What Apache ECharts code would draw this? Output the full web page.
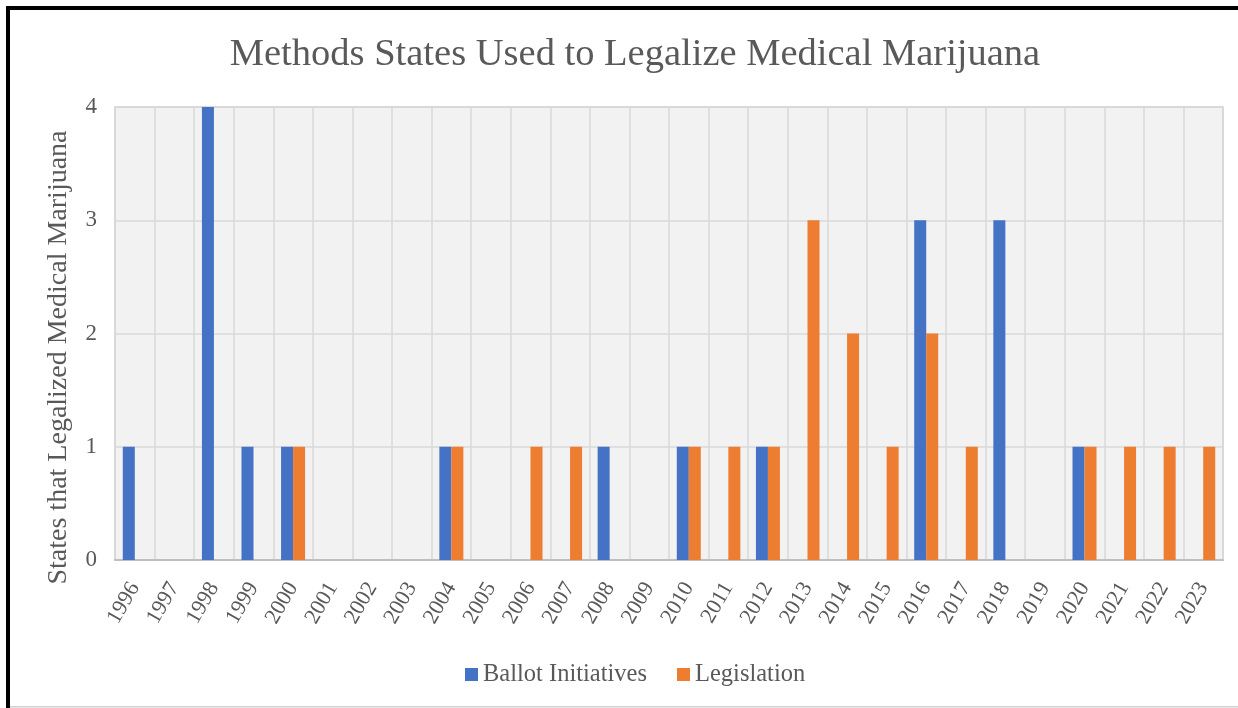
<!DOCTYPE html>
<html>
<head>
<meta charset="utf-8">
<script src="https://cdn.jsdelivr.net/npm/echarts@6/dist/echarts.min.js"></script>
<style>
html,body{margin:0;padding:0;background:#fff;}
#chart{width:1238px;height:708px;}
</style>
</head>
<body>
<div id="chart"></div>
<script>
const years = ['1996','1997','1998','1999','2000','2001','2002','2003','2004','2005','2006','2007','2008','2009','2010','2011','2012','2013','2014','2015','2016','2017','2018','2019','2020','2021','2022','2023'];
const ballotInitiatives = [1,0,4,1,1,0,0,0,1,0,0,0,1,0,1,0,1,0,0,0,3,0,3,0,1,0,0,0];
const legislation =       [0,0,0,0,1,0,0,0,1,0,1,1,0,0,1,1,1,3,2,1,2,1,0,0,1,1,1,1];
const yTicks = [0,1,2,3,4];

const font = '"Liberation Serif","Times New Roman",serif';
const textColor = '#595959';

const chart = echarts.init(document.getElementById('chart'));
chart.setOption({
  backgroundColor: '#ffffff',
  animation: false,
  title: {
    text: 'Methods States Used to Legalize Medical Marijuana',
    left: 630,
    textAlign: 'center',
    top: 30,
    textStyle: { fontFamily: font, fontSize: 38.5, fontWeight: 'normal', color: textColor }
  },
  legend: {
    data: ['Ballot Initiatives', 'Legislation'],
    left: 460,
    top: 657,
    itemWidth: 13,
    itemHeight: 13,
    itemGap: 30,
    icon: 'rect',
    textStyle: { fontFamily: font, fontSize: 24.5, color: textColor }
  },
  grid: {
    left: 115, right: 15, top: 107, bottom: 148,
    show: true,
    backgroundColor: '#F2F2F2',
    borderColor: '#D0D0D0',
    borderWidth: 1.5
  },
  xAxis: {
    type: 'category',
    data: years,
    boundaryGap: true,
    axisLine: { show: true, lineStyle: { color: '#BFBFBF', width: 2 } },
    axisTick: { show: false },
    splitLine: { show: true, lineStyle: { color: '#D9D9D9', width: 1.5 } },
    axisLabel: {
      interval: 0,
      rotate: 60,
      margin: 24,
      fontFamily: font,
      fontSize: 22,
      color: textColor
    }
  },
  yAxis: {
    type: 'value',
    min: 0,
    max: 4,
    interval: 1,
    name: 'States that Legalized Medical Marijuana',
    nameLocation: 'middle',
    nameRotate: 90,
    nameGap: 42,
    nameTextStyle: { fontFamily: font, fontSize: 28, color: textColor, padding: [0, 48, 0, 0] },
    axisLine: { show: false },
    axisTick: { show: false },
    splitLine: { show: true, lineStyle: { color: '#D9D9D9', width: 1.5 } },
    axisLabel: {
      margin: 18,
      fontFamily: font,
      fontSize: 23,
      color: textColor,
      formatter: function (v) { return yTicks.indexOf(v) >= 0 ? String(v) : ''; }
    }
  },
  series: [
    {
      name: 'Ballot Initiatives',
      type: 'bar',
      data: ballotInitiatives,
      barWidth: 12,
      barGap: '0%',
      itemStyle: { color: '#4472C4' }
    },
    {
      name: 'Legislation',
      type: 'bar',
      data: legislation,
      barWidth: 12,
      barGap: '0%',
      itemStyle: { color: '#ED7D31' }
    }
  ],
  graphic: [
    { type: 'rect', shape: { x: 6, y: 6, width: 4, height: 702 }, style: { fill: '#000' }, silent: true },
    { type: 'rect', shape: { x: 6, y: 6, width: 1232, height: 4 }, style: { fill: '#000' }, silent: true },
    { type: 'rect', shape: { x: 10, y: 706, width: 1228, height: 1.5 }, style: { fill: '#CFCFCF' }, silent: true }
  ]
});
</script>
</body>
</html>
